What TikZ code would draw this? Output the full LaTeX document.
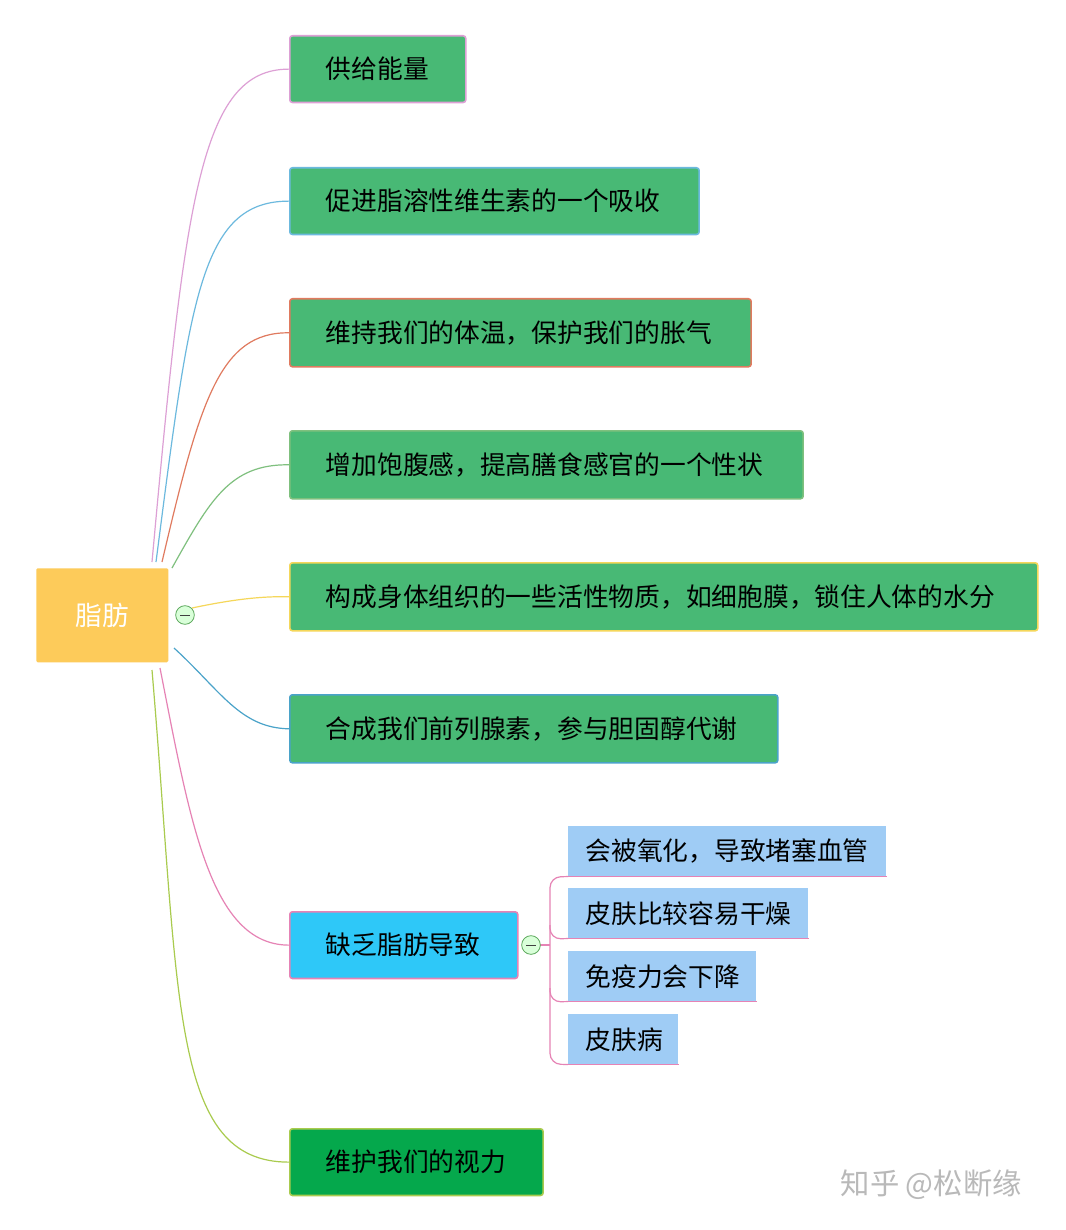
\documentclass[tikz,border=0pt]{standalone}
\usepackage{fontspec}
\setmainfont{Noto Sans CJK SC}
\begin{document}
\begin{tikzpicture}[x=0.75pt,y=-0.75pt,
  gbox/.style={draw,line width=1.2pt,rounded corners=2pt,fill=gfill,anchor=north west,inner sep=0pt,font=\fontsize{19.3}{22}\selectfont,text=black},
  sbox/.style={fill=sfill,anchor=north west,inner sep=0pt,font=\fontsize{19.3}{22}\selectfont},
  con/.style={line width=0.9pt}]
\definecolor{gfill}{HTML}{48B975}
\definecolor{sfill}{HTML}{9FCCF5}
\definecolor{cpink}{HTML}{DDA0D5}
\definecolor{cblue}{HTML}{6CB9DE}
\definecolor{corange}{HTML}{E07A5F}
\definecolor{cgreen}{HTML}{7FC07E}
\definecolor{cyel}{HTML}{F5D75A}
\definecolor{cteal}{HTML}{4AA3C9}
\definecolor{cmag}{HTML}{E683B5}
\definecolor{clime}{HTML}{A9CB4E}
\useasboundingbox (0,0) rectangle (1066,1230);
\fill[white] (0,0) rectangle (1066,1230);
% root
\node[fill={rgb,255:red,253;green,203;blue,90},anchor=north west,inner sep=0pt,text=white,font=\fontsize{20}{22}\selectfont,rounded corners=1pt,minimum width=99pt,minimum height=70.5pt] (r) at (36,568) {脂肪};
% nodes
\node[gbox,draw=cpink,minimum width=132pt,minimum height=50pt,text width=132pt] (n1) at (289,35) {\hspace*{27pt}供给能量};
\node[gbox,draw=cblue,minimum width=307pt,minimum height=50pt,text width=307pt] (n2) at (289,167) {\hspace*{27pt}促进脂溶性维生素的一个吸收};
\node[gbox,draw=corange,minimum width=346pt,minimum height=51pt,text width=346pt] (n3) at (289,298) {\hspace*{27pt}维持我们的体温，保护我们的胀气};
\node[gbox,draw=cgreen,minimum width=385pt,minimum height=51pt,text width=385pt] (n4) at (289,430) {\hspace*{27pt}增加饱腹感，提高膳食感官的一个性状};
\node[gbox,draw=cyel,minimum width=561pt,minimum height=51pt,text width=561pt] (n5) at (289,562) {\hspace*{27pt}构成身体组织的一些活性物质，如细胞膜，锁住人体的水分};
\node[gbox,draw=cteal,minimum width=366pt,minimum height=51pt,text width=366pt] (n6) at (289,694) {\hspace*{27pt}合成我们前列腺素，参与胆固醇代谢};
\node[gbox,draw=cmag,fill={rgb,255:red,46;green,200;blue,248},minimum width=171pt,minimum height=50pt,text width=171pt] (n7) at (289,911) {\hspace*{27pt}缺乏脂肪导致};
\node[gbox,draw=clime,fill={rgb,255:red,5;green,168;blue,76},minimum width=190pt,minimum height=50pt,text width=190pt] (n8) at (289,1128) {\hspace*{27pt}维护我们的视力};
% connectors
\draw[con,cpink] (152,562) .. controls (185,200) and (200,69) .. (n1.west);
\draw[con,cblue] (156,562) .. controls (190,300) and (200,201) .. (n2.west);
\draw[con,corange] (162,562) .. controls (200,400) and (220,332) .. (n3.west);
\draw[con,cgreen] (172,568) .. controls (210,500) and (230,464) .. (n4.west);
\draw[con,cyel] (192,608) .. controls (230,600) and (260,596) .. (n5.west);
\draw[con,cteal] (174,648) .. controls (220,690) and (240,728) .. (n6.west);
\draw[con,cmag] (160,668) .. controls (190,820) and (210,945) .. (n7.west);
\draw[con,clime] (152,670) .. controls (180,1000) and (170,1162) .. (n8.west);
% sub nodes
\foreach \i/\xa/\ya/\w/\t in {s1/568/826/318/会被氧化，导致堵塞血管, s2/568/888/240/皮肤比较容易干燥, s3/568/951/188/免疫力会下降, s4/568/1014/110/皮肤病}{
  \node[sbox,minimum width=\w*0.75pt,minimum height=37.5pt,text width=\w*0.75pt] (\i) at (\xa,\ya) {\hspace*{13pt}\t};
  \draw[con,cmag] (\i.south west) -- (\i.south east);
}
\draw[con,cmag,rounded corners=8pt] (s1.south west) -- (550,877) -- (550,1064) -- (s4.south west);
\draw[con,cmag,rounded corners=8pt] (550,925) -- (550,939) -- (s2.south west);
\draw[con,cmag,rounded corners=8pt] (550,988) -- (550,1002) -- (s3.south west);
\draw[con,cmag] (540,945) -- (550,945);
% collapse markers
\foreach \n/\p in {c1/{(185,615)},c2/{(531,945)}}{
  \node[circle,draw=gray!70!green,fill=green!15,minimum size=14pt,inner sep=0pt,line width=0.6pt] (\n) at \p {};
  \draw[gray!50!black,line width=0.7pt] ([xshift=-3.5pt]\n.center) -- ([xshift=3.5pt]\n.center);
}
\node[text=gray!55,font=\fontsize{22}{24}\selectfont,anchor=west] (wm) at (836,1185) {知乎 @松断缘};
\end{tikzpicture}
\end{document}
